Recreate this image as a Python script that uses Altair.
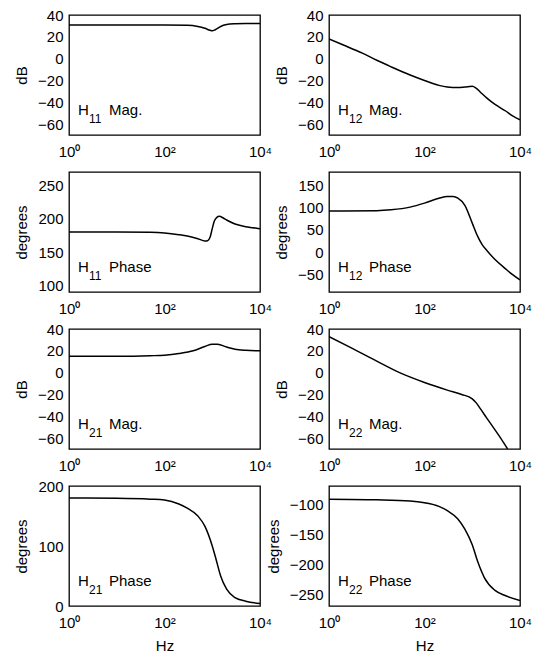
import altair as alt
import pandas as pd

# ---------------- data ----------------
h11_mag_hz = [1, 10, 100, 300, 500, 700, 900, 1000, 1150, 1500, 2000, 3000, 5000, 10000]
h11_mag_db = [30.8, 30.8, 30.8, 30.6, 29.5, 27.8, 26.0, 25.5, 26.5, 29.5, 31.2, 32.0, 32.3, 32.3]

h12_mag_hz = [1, 2, 5, 10, 20, 50, 100, 200, 300, 500, 700, 1000, 1200, 1500, 2000, 3000, 5000, 7000, 10000]
h12_mag_db = [18, 12.5, 5, -1.5, -7.5, -15, -20, -24.5, -26, -26.5, -26, -25.3, -27, -31, -36, -42, -48, -52.5, -56]

h11_ph_hz = [1, 10, 50, 100, 200, 300, 500, 700, 800, 900, 1000, 1100, 1250, 1400, 1700, 2000, 3000, 5000, 7000, 10000]
h11_ph_deg = [180, 180, 179.5, 178.5, 176, 174, 170, 166.5, 167, 172, 185, 196, 202, 203.5, 201, 198, 192, 188, 186.5, 185]

h12_ph_hz = [1, 10, 20, 50, 100, 200, 300, 400, 500, 700, 1000, 1300, 1600, 2000, 3000, 5000, 7000, 10000]
h12_ph_deg = [92, 93, 95, 101, 110, 121, 125, 125, 121, 105, 65, 35, 17, 4, -17, -38, -51, -63]

h21_mag_hz = [1, 10, 50, 100, 200, 400, 700, 1000, 1300, 2000, 3000, 5000, 10000]
h21_mag_db = [15, 15, 15.5, 16, 17.5, 20, 24, 26, 26, 23.5, 21.5, 20.5, 20]

h22_mag_hz = [1, 3, 10, 30, 100, 300, 600, 1000, 1200, 1500, 2000, 3000, 4000, 5500]
h22_mag_db = [33, 22.5, 10.5, 0, -9, -16, -20, -24, -27.5, -33.5, -41.5, -52.5, -60.5, -70]

h21_ph_hz = [1, 10, 50, 100, 200, 300, 500, 700, 1000, 1200, 1500, 2000, 3000, 5000, 10000]
h21_ph_deg = [180, 179.5, 178, 176.5, 170, 163, 150, 133, 100, 78, 50, 28, 14, 8, 4]

h22_ph_hz = [1, 10, 50, 100, 200, 300, 500, 700, 1000, 1300, 1800, 3000, 5000, 10000]
h22_ph_deg = [-92, -93, -95, -98, -104, -111, -125, -142, -168, -196, -223, -244, -253, -261]

x_ticks = [1, 100, 10000]
mag_ticks = [-60, -40, -20, 0, 20, 40]
h11_ph_ticks = [100, 150, 200, 250]
h12_ph_ticks = [-50, 0, 50, 100, 150]
h21_ph_ticks = [0, 100, 200]
h22_ph_ticks = [-250, -200, -150, -100]

W, H = 191, 120
FONT = "Liberation Sans"


def panel(hz, vals, ydom, yticks, ytitle, sub, word, show_hz):
    df = pd.DataFrame({"hz": hz, "v": vals})
    xaxis_kw = dict(
        values=x_ticks,
        labelExpr="datum.value == 1 ? '10⁰' : datum.value == 100 ? '10²' : '10⁴'",
        labelFlush=False,
        labelPadding=9,
    )
    xaxis_kw["title"] = "Hz" if show_hz else ""
    line = alt.Chart(df).mark_line(
        color="black", strokeWidth=1.5, interpolate="monotone", clip=True
    ).encode(
        x=alt.X("hz:Q", scale=alt.Scale(type="log", domain=[1, 10000], nice=False),
                axis=alt.Axis(**xaxis_kw)),
        y=alt.Y("v:Q", scale=alt.Scale(domain=ydom, nice=False, zero=False),
                axis=alt.Axis(values=yticks, title=ytitle)),
    )
    t1 = alt.Chart(pd.DataFrame({"t": ["H"]})).mark_text(
        align="left", baseline="alphabetic", fontSize=15, font=FONT, color="black"
    ).encode(text="t:N", x=alt.value(9), y=alt.value(H - 20))
    t2 = alt.Chart(pd.DataFrame({"t": [sub]})).mark_text(
        align="left", baseline="alphabetic", fontSize=12, font=FONT, color="black"
    ).encode(text="t:N", x=alt.value(20), y=alt.value(H - 12))
    t3 = alt.Chart(pd.DataFrame({"t": [word]})).mark_text(
        align="left", baseline="alphabetic", fontSize=15, font=FONT, color="black"
    ).encode(text="t:N", x=alt.value(40), y=alt.value(H - 20))
    return alt.layer(line, t1, t2, t3).properties(width=W, height=H)


panels = [
    panel(h11_mag_hz, h11_mag_db, [-70, 40], mag_ticks, "dB", "11", "Mag.", False),
    panel(h12_mag_hz, h12_mag_db, [-70, 40], mag_ticks, "dB", "12", "Mag.", False),
    panel(h11_ph_hz, h11_ph_deg, [90, 270], h11_ph_ticks, "degrees", "11", "Phase", False),
    panel(h12_ph_hz, h12_ph_deg, [-90, 180], h12_ph_ticks, "degrees", "12", "Phase", False),
    panel(h21_mag_hz, h21_mag_db, [-70, 40], mag_ticks, "dB", "21", "Mag.", False),
    panel(h22_mag_hz, h22_mag_db, [-70, 40], mag_ticks, "dB", "22", "Mag.", False),
    panel(h21_ph_hz, h21_ph_deg, [0, 200], h21_ph_ticks, "degrees", "21", "Phase", True),
    panel(h22_ph_hz, h22_ph_deg, [-270, -70], h22_ph_ticks, "degrees", "22", "Phase", True),
]

chart = alt.ConcatChart(
    concat=panels, columns=2,
    spacing=alt.RowColnumber(row=37, column=69),
    bounds="flush",
).properties(
    background="white",
    padding={"left": 13, "top": 7, "right": 5, "bottom": 5},
).configure_view(
    stroke="black", strokeWidth=1.3
).configure_axis(
    domain=False, grid=False, ticks=False,
    labelFont=FONT, labelFontSize=15, labelColor="black", labelPadding=6,
    titleFont=FONT, titleFontSize=15, titleFontWeight="normal", titleColor="black",
    titlePadding=8,
)

chart.save("out.html", embed_options={"renderer": "svg", "actions": False})
